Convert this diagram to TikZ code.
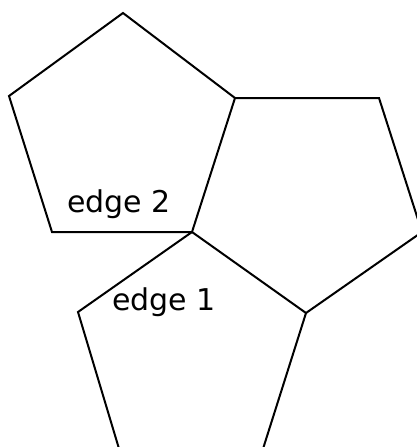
\documentclass[tikz,border=0pt]{standalone}
\usepackage{fontspec}
\setmainfont{DejaVu Sans}
\begin{document}
\begin{tikzpicture}[x=1pt,y=-1pt,
  edgeline/.style={line width=2pt,line join=miter,black},
  lbl/.style={anchor=base west,inner sep=0pt,font=\fontsize{30}{35}\selectfont}]
\useasboundingbox (0,0) rectangle (417,447);
\clip (0,0) rectangle (417,447);
% vertices
\coordinate (a1) at (123,13);
\coordinate (c) at (235,98);
\coordinate (m) at (192,232);
\coordinate (a4) at (52,232);
\coordinate (a5) at (9,96);
\coordinate (b2) at (379,98);
\coordinate (b3) at (422,232);
\coordinate (b4) at (306,313);
\coordinate (d3) at (262,452);
\coordinate (d4) at (120,452);
\coordinate (d5) at (78,312);
% pentagons
\draw[edgeline] (a1) -- (c) -- (m) -- (a4) -- (a5) -- cycle;
\draw[edgeline] (c) -- (b2) -- (b3) -- (b4) -- (m);
\draw[edgeline] (b4) -- (d3) -- (d4) -- (d5) -- (m);
% labels
\node[lbl] (e2) at (67,212) {edge 2};
\node[lbl] (e1) at (112,310) {edge 1};
\end{tikzpicture}
\end{document}
